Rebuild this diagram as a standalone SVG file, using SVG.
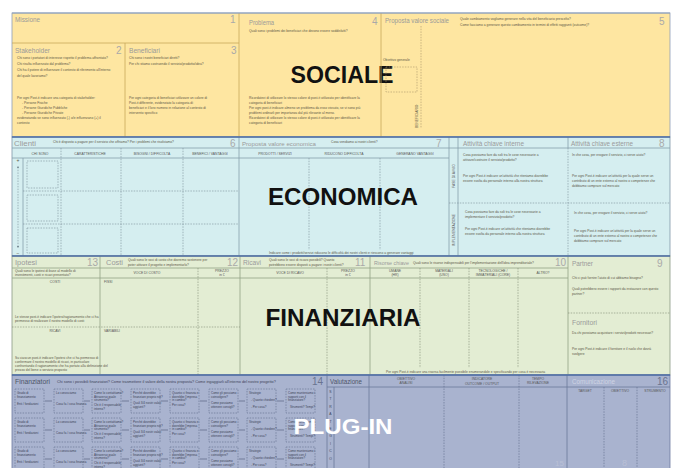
<svg xmlns="http://www.w3.org/2000/svg" width="678" height="468" viewBox="0 0 678 468">
<style>
text{font-family:"Liberation Sans",Arial,sans-serif}
.lb{font-size:8px;fill:#9a9a9a}
.lbd{font-size:8px;fill:#4e5568}
.nm{font-size:10px;fill:#a9a9a9}
.nmd{font-size:10px;fill:#6a7390}
.t{font-size:3.3px;fill:#5b5646}
.tp{font-size:3px;fill:#3e4458}
.ch{font-size:3.4px;fill:#555}
.c{text-anchor:middle}
.big{font-size:23px;font-weight:bold;fill:#111}
.ys{stroke:#c9a85a;stroke-width:0.8;fill:none}
.yd{stroke:#a8956a;stroke-width:0.6;stroke-dasharray:1.5 1.2;fill:none}
.bs{stroke:#86a0ab;stroke-width:0.8;fill:none}
.bd{stroke:#7b8f98;stroke-width:0.6;stroke-dasharray:1.5 1.2;fill:none}
.gs{stroke:#93a286;stroke-width:0.8;fill:none}
.gd{stroke:#7f8c74;stroke-width:0.6;stroke-dasharray:1.5 1.2;fill:none}
.ps{stroke:#6b789a;stroke-width:0.8;fill:none}
.pd{stroke:#5f6b8c;stroke-width:0.6;stroke-dasharray:1.5 1.2;fill:none}
.sep{stroke:#4d6da6;stroke-width:1.6;fill:none}
.lk{stroke:#4e5875;stroke-width:0.6;fill:none}
</style>
<defs>
<marker id="ar" viewBox="0 0 6 6" refX="3" refY="3" markerWidth="4" markerHeight="4" orient="auto-start-reverse">
<path d="M0,0 L6,3 L0,6 z" fill="#7b8f98"/>
</marker>
<g id="f1"><rect class="pd" width="29" height="24"/><text class="tp" x="2" y="5">Grado di</text><text class="tp" x="2" y="8.5">finanziamento</text><text class="tp" x="2" y="16">Enti / fondazioni</text></g>
<g id="f2"><rect class="pd" width="29" height="24"/><text class="tp" x="2" y="5">Lo conosciamo</text><text class="tp" x="2" y="16">Cosa fa / cosa finanzia</text></g>
<g id="f3"><rect class="pd" width="29" height="24"/><text class="tp" x="2" y="5">Come lo contattiamo?</text><text class="tp" x="2" y="8.5">Attraverso quale</text><text class="tp" x="2" y="12">strumento?</text><text class="tp" x="2" y="17">Chi è il responsabile</text><text class="tp" x="2" y="20.5">interno?</text></g>
<g id="f4"><rect class="pd" width="29" height="24"/><text class="tp" x="2" y="5">Perché dovrebbe</text><text class="tp" x="2" y="8.5">finanziare proprio noi?</text><text class="tp" x="2" y="15">Quali 3/4 nostri valori</text><text class="tp" x="2" y="18.5">aggiunti?</text></g>
<g id="f5"><rect class="pd" width="29" height="24"/><text class="tp" x="2" y="5">Quanto ci finanzia e</text><text class="tp" x="2" y="8.5">dovrebbe l'impresa</text><text class="tp" x="2" y="12">in cambio?</text><text class="tp" x="2" y="17">Per cosa?</text></g>
<g id="f6"><rect class="pd" width="29" height="24"/><text class="tp" x="2" y="5">Come gli possiamo</text><text class="tp" x="2" y="8.5">coinvolgere?</text><text class="tp" x="2" y="15">Come possiamo</text><text class="tp" x="2" y="18.5">ottenere consigli?</text></g>
<g id="f7"><rect class="pd" width="29" height="24"/><text class="tp" x="2" y="5">Strategie</text><text class="tp" x="4" y="12">- Quanto chiedere?</text><text class="tp" x="4" y="19">- Per cosa?</text></g>
<g id="f8"><rect class="pd" width="29" height="24"/><text class="tp" x="2" y="5">Come manteniamo i</text><text class="tp" x="2" y="8.5">rapporti con il</text><text class="tp" x="2" y="12">finanziatore?</text><text class="tp" x="4" y="19">Strumenti? Tempi?</text></g>
</defs>

<rect x="0" y="0" width="678" height="468" fill="#ffffff"/>

<g id="sociale">
<rect x="12" y="13" width="658" height="124" fill="#fee6a1" stroke="#8f9fb8" stroke-width="0.8"/>
<text class="big c" x="342" y="83" textLength="103" lengthAdjust="spacingAndGlyphs">SOCIALE</text>
</g>
<g id="economica">
<rect x="12" y="137" width="658" height="119" fill="#d5eef0" stroke="#7f96a8" stroke-width="0.8"/>
</g>
<g id="finanziaria">
<rect x="12" y="256" width="658" height="119" fill="#e3edd3" stroke="#8a9a86" stroke-width="0.8"/>
</g>
<g id="plugin">
<rect x="12" y="375" width="658" height="95" fill="#a9b3cf" stroke="#6e7ba0" stroke-width="0.8"/>
</g>

<g id="missione">
<path class="ys" d="M12,43 H239"/>
<text class="lb" x="15" y="22" textLength="25" lengthAdjust="spacingAndGlyphs">Missione</text>
<text class="nm" x="230" y="23">1</text>
</g>
<g id="stakeholder">
<path class="ys" d="M125,43 V137"/>
<text class="lb" x="15" y="53" textLength="35" lengthAdjust="spacingAndGlyphs">Stakeholder</text>
<text class="nm" x="116" y="54">2</text>
<text class="t" x="17" y="59">Chi sono i portatori di interesse rispetto il problema affrontato?</text>
<text class="t" x="17" y="65">Chi risulta influenzato dal problema?</text>
<text class="t" x="17" y="71">Chi ha il potere di influenzare il contesto di riferimento all'interno</text>
<text class="t" x="17" y="77">del quale lavoriamo?</text>
<text class="t" x="17" y="99">Per ogni Post-it indicare una categoria di stakeholder:</text>
<text class="t" x="22" y="104">- Persone Fisiche</text>
<text class="t" x="22" y="109">- Persone Giuridiche Pubbliche</text>
<text class="t" x="22" y="114">- Persone Giuridiche Private</text>
<text class="t" x="17" y="119">evidenziando se sono influenzato (-) o/e influenzano (+) il</text>
<text class="t" x="17" y="124">contesto</text>
</g>
<g id="beneficiari">
<path class="ys" d="M239,13 V137"/>
<text class="lb" x="129" y="53" textLength="31" lengthAdjust="spacingAndGlyphs">Beneficiari</text>
<text class="nm" x="231" y="54">3</text>
<text class="t" x="129" y="59">Chi sono i nostri beneficiari diretti?</text>
<text class="t" x="129" y="65">Per chi stiamo costruendo il servizio/prodotto/idea?</text>
<text class="t" x="129" y="99">Per ogni categoria di beneficiari utilizzare un colore di</text>
<text class="t" x="129" y="104">Post-it differente, evidenziato la categoria di</text>
<text class="t" x="129" y="109">beneficiari e il loro numero in relazione al contesto di</text>
<text class="t" x="129" y="114">intervento specifico</text>
</g>
<g id="problema">
<path class="ys" d="M381,13 V137"/>
<text class="lb" x="249" y="25" textLength="25" lengthAdjust="spacingAndGlyphs">Problema</text>
<text class="nm" x="372" y="25">4</text>
<text class="t" x="249" y="32">Quali sono i problemi dei beneficiari che devono essere soddisfatti?</text>
<text class="t" x="249" y="99">Ricordatevi di utilizzare lo stesso colore di post-it utilizzato per identificare la</text>
<text class="t" x="249" y="104">categoria di beneficiari</text>
<text class="t" x="249" y="109">Per ogni post-it indicare almeno un problema da esso vissuto, se vi sono più</text>
<text class="t" x="249" y="114">problemi ordinarli per importanza dal più rilevante al meno.</text>
<text class="t" x="249" y="119">Ricordatevi di utilizzare lo stesso colore di post-it utilizzato per identificare la</text>
<text class="t" x="249" y="124">categoria di beneficiari</text>
</g>
<g id="proposta-sociale">
<text class="lb" x="385" y="23" textLength="64" lengthAdjust="spacingAndGlyphs">Proposta valore sociale</text>
<text class="nm" x="659" y="25">5</text>
<text class="t" x="460" y="20">Quale cambiamento vogliamo generare nella vita del beneficiario prescelto?</text>
<text class="t" x="460" y="26">Come facciamo a generare questo cambiamento in termini di effetti raggiunti (outcome)?</text>
<path class="yd" d="M421,26 V128"/>
<text class="t" x="383" y="61">Obiettivo generale</text>
<rect class="yd" x="386" y="67" width="31" height="25"/>
<text class="t" x="418" y="128" transform="rotate(-90 418 128)">BENEFICIARIO</text>
</g>

<g id="clienti">
<path class="bs" d="M12,148 H670 M12,158 H449 M23,158 V256 M239,137 V256"/>
<path class="bd" d="M61,148 V256 M121,148 V256 M183,148 V256 M23,191 H239 M23,224 H239"/>
<rect class="bd" x="27" y="161" width="31" height="27"/>
<rect class="bd" x="27" y="195" width="31" height="26"/>
<rect class="bd" x="27" y="228" width="31" height="25"/>
<text class="lb" x="14" y="146" textLength="22" lengthAdjust="spacingAndGlyphs">Clienti</text>
<text class="t" x="53" y="143">Chi è disposto a pagare per il servizio che offriamo? Per i problemi che risolviamo?</text>
<text class="nm" x="230" y="147">6</text>
<text class="ch c" x="40" y="154.5">CHI SONO</text>
<text class="ch c" x="90" y="154.5">CARATTERISTICHE</text>
<text class="ch c" x="152" y="154.5">BISOGNI / DIFFICOLTÀ</text>
<text class="ch c" x="210" y="154.5">BENEFICI / VANTAGGI</text>
<text class="t c" x="18" y="162" style="font-size:5px">+</text>
<text class="t c" x="18" y="255" style="font-size:5px">−</text>
</g>
<g id="proposta-economica">
<path class="bs" d="M449,137 V256"/>
<path class="bd" d="M309,158 V250 M380,158 V250"/>
<text class="lb" x="242" y="146" style="font-size:6px" textLength="74" lengthAdjust="spacingAndGlyphs">Proposta valore economica</text>
<text class="t" x="331" y="143">Cosa vendiamo ai nostri clienti?</text>
<text class="nm" x="436" y="147">7</text>
<text class="ch c" x="275" y="154.5">PRODOTTI / SERVIZI</text>
<text class="ch c" x="344" y="154.5">RIDUCONO DIFFICOLTÀ</text>
<text class="ch c" x="415" y="154.5">GENERANO VANTAGGI</text>
<text class="t" x="269" y="254">Indicare come i prodotti/servizi riducono le difficoltà dei nostri clienti e riescono a generare vantaggi</text>
<text class="big c" x="343" y="205" textLength="150" lengthAdjust="spacingAndGlyphs">ECONOMICA</text>
</g>
<g id="fasi">
<path class="bs" d="M458,137 V256"/>
<path class="bd" d="M449,203 H670"/>
<text class="ch c" x="455" y="176" transform="rotate(-90 455 176)">FASE DI AVVIO</text>
<text class="ch c" x="455" y="230" transform="rotate(-90 455 230)">IMPLEMENTAZIONE</text>
</g>
<g id="attivita-interne">
<path class="bs" d="M568,137 V148"/>
<path class="bd" d="M568,148 V256"/>
<text class="lb" x="463" y="146" textLength="61" lengthAdjust="spacingAndGlyphs">Attività chiave interne</text>
<text class="t" x="463" y="156">Cosa possiamo fare da soli tra le cose necessarie a</text>
<text class="t" x="463" y="161">attivare/costruire il servizio/prodotto?</text>
<text class="t" x="463" y="177">Per ogni Post-it indicare un'attività che riteniamo dovrebbe</text>
<text class="t" x="463" y="182">essere svolta da personale interno alla nostra struttura</text>
<text class="t" x="465" y="213">Cosa possiamo fare da soli tra le cose necessarie a</text>
<text class="t" x="465" y="218">implementare il servizio/prodotto?</text>
<text class="t" x="465" y="230">Per ogni Post-it indicare un'attività che riteniamo dovrebbe</text>
<text class="t" x="465" y="235">essere svolta da personale interno alla nostra struttura</text>
</g>
<g id="attivita-esterne">
<text class="lb" x="571" y="146" textLength="62" lengthAdjust="spacingAndGlyphs">Attività chiave esterne</text>
<text class="nm" x="659" y="147">8</text>
<text class="t" x="572" y="156">In che cosa, per erogare il servizio, ci serve aiuto?</text>
<text class="t" x="572" y="177">Per ogni Post-it indicare un'attività per la quale serve un</text>
<text class="t" x="572" y="182">contributo di un ente esterno al nostro o competenze che</text>
<text class="t" x="572" y="187">dobbiamo comprare sul mercato</text>
<text class="t" x="574" y="214">In che cosa, per erogare il servizio, ci serve aiuto?</text>
<text class="t" x="574" y="232">Per ogni Post-it indicare un'attività per la quale serve un</text>
<text class="t" x="574" y="237">contributo di un ente esterno al nostro o competenze che</text>
<text class="t" x="574" y="242">dobbiamo comprare sul mercato</text>
</g>

<g id="ipotesi">
<path class="gs" d="M12,268 H568 M12,278 H568 M100,256 V375 M240,256 V375"/>
<path class="gd" d="M12,327 H240"/>
<text class="lb" x="15" y="265" textLength="22" lengthAdjust="spacingAndGlyphs">Ipotesi</text>
<text class="nm" x="87" y="266">13</text>
<text class="t" x="15" y="272">Quali sono le ipotesi di base al modello di</text>
<text class="t" x="15" y="276">investimenti, costi e ricavi presentato?</text>
<text class="ch c" x="55" y="283">COSTI</text>
<text class="t" x="15" y="318">Le stesse post-it indicare l'ipotesi/ragionamento che ci ha</text>
<text class="t" x="15" y="322">permesso di realizzare il nostro modello di costi</text>
<text class="ch c" x="55" y="332">RICAVI</text>
<text class="t" x="15" y="359">Su ciascun post-it indicare l'ipotesi che ci ha permesso di</text>
<text class="t" x="15" y="363">confermare il nostro modello di ricavi, in particolare</text>
<text class="t" x="15" y="367">confrontando il ragionamento che ha portato alla definizione del</text>
<text class="t" x="15" y="371">prezzo del bene o servizio proposto</text>
</g>
<g id="costi">
<path class="gd" d="M198,268 V375"/>
<text class="lb" x="106" y="265" textLength="17" lengthAdjust="spacingAndGlyphs">Costi</text>
<text class="t" x="128" y="261">Quali sono le voci di costo che dovremo sostenere per</text>
<text class="t" x="128" y="265.5">poter attivare il progetto e implementarlo?</text>
<text class="nm" x="227" y="266">12</text>
<text class="ch c" x="147" y="273.5">VOCE DI COSTO</text>
<text class="ch c" x="222" y="271.5">PREZZO</text>
<text class="ch c" x="222" y="275.5">in €</text>
<text class="ch" x="104" y="283">FISSI</text>
<text class="ch" x="104" y="332">VARIABILI</text>
</g>
<g id="ricavi">
<path class="gs" d="M370,256 V375"/>
<path class="gd" d="M327,268 V375"/>
<text class="lb" x="243" y="265" textLength="18" lengthAdjust="spacingAndGlyphs">Ricavi</text>
<text class="t" x="269" y="261">Quali sono le voci di ricavo possibili? Quanto</text>
<text class="t" x="269" y="265.5">potrebbero essere disposti a pagare i nostri clienti?</text>
<text class="nm" x="355" y="266">11</text>
<text class="ch c" x="290" y="273.5">VOCE DI RICAVO</text>
<text class="ch c" x="348" y="271.5">PREZZO</text>
<text class="ch c" x="348" y="275.5">in €</text>
<text class="big c" x="343" y="326" textLength="155" lengthAdjust="spacingAndGlyphs">FINANZIARIA</text>
</g>
<g id="risorse">
<path class="gs" d="M568,256 V375"/>
<path class="gd" d="M420,268 V368 M469,268 V368 M518,268 V368"/>
<text class="lb" x="374" y="265" style="font-size:5.5px" textLength="35" lengthAdjust="spacingAndGlyphs">Risorse chiave</text>
<text class="t" x="413" y="263.5">Quali sono le risorse indispensabili per l'implementazione dell'idea imprenditoriale?</text>
<text class="nm" x="555" y="266">10</text>
<text class="ch c" x="395" y="272">UMANE</text>
<text class="ch c" x="395" y="276">(HR)</text>
<text class="ch c" x="444" y="272">MATERIALI</text>
<text class="ch c" x="444" y="276">(USO)</text>
<text class="ch c" x="493" y="272">TECNOLOGICHE /</text>
<text class="ch c" x="493" y="276">IMMATERIALI (CORE)</text>
<text class="ch c" x="543" y="274">ALTRO?</text>
<text class="t" x="386" y="373">Per ogni Post-it indicare una risorsa facilmente possibile enumerandole e specificando per cosa è necessaria</text>
</g>
<g id="partner">
<path class="gd" d="M568,313 H670"/>
<text class="lb" x="572" y="266" textLength="21" lengthAdjust="spacingAndGlyphs">Partner</text>
<text class="nm" x="657" y="267">9</text>
<text class="t" x="572" y="279">Chi ci può fornire l'aiuto di cui abbiamo bisogno?</text>
<text class="t" x="572" y="290">Quali potrebbero essere i rapporti da instaurare con questo</text>
<text class="t" x="572" y="295">partner?</text>
</g>
<g id="fornitori">
<text class="lb" x="572" y="325" textLength="25" lengthAdjust="spacingAndGlyphs">Fornitori</text>
<text class="t" x="572" y="334">Da chi possiamo acquistare i servizi/prodotti necessari?</text>
<text class="t" x="572" y="350">Per ogni Post-it indicare il fornitore e il ruolo che dovrà</text>
<text class="t" x="572" y="355">svolgere</text>
</g>

<g id="finanziatori">
<path class="ps" d="M327,375 V468"/>
<text class="lbd" x="15" y="384" textLength="35" lengthAdjust="spacingAndGlyphs">Finanziatori</text>
<text class="tp" x="57" y="382.5" style="font-size:3.8px">Chi sono i possibili finanziatori? Come trasmettere il valore della nostra proposta? Come ingaggiarli all'interno del nostro progetto?</text>
<text class="nmd" x="312" y="385">14</text>
</g>
<g id="fin-r1">
<use href="#f1" x="15" y="389"/><use href="#f2" x="54" y="389"/><use href="#f3" x="92" y="389"/><use href="#f4" x="131" y="389"/><use href="#f5" x="170" y="389"/><use href="#f6" x="209" y="389"/><use href="#f7" x="247" y="389"/><use href="#f8" x="286" y="389"/>
</g>
<g id="fin-r2">
<use href="#f1" x="15" y="418"/><use href="#f2" x="54" y="418"/><use href="#f3" x="92" y="418"/><use href="#f4" x="131" y="418"/><use href="#f5" x="170" y="418"/><use href="#f6" x="209" y="418"/><use href="#f7" x="247" y="418"/><use href="#f8" x="286" y="418"/>
</g>
<g id="fin-r3">
<use href="#f1" x="15" y="447"/><use href="#f2" x="54" y="447"/><use href="#f3" x="92" y="447"/><use href="#f4" x="131" y="447"/><use href="#f5" x="170" y="447"/><use href="#f6" x="209" y="447"/><use href="#f7" x="247" y="447"/><use href="#f8" x="286" y="447"/>
</g>
<g id="valutazione">
<path class="ps" d="M327,387 H670 M334,387 V468 M369,375 V468 M567,375 V468"/>
<path class="pd" d="M444,375 V468 M519,375 V468"/>
<text class="lbd" x="330" y="384" textLength="32" lengthAdjust="spacingAndGlyphs">Valutazione</text>
<text class="ch c" x="406" y="380">OBIETTIVO</text>
<text class="ch c" x="406" y="384">ANALISI</text>
<text class="ch c" x="482" y="380">INDICATORE</text>
<text class="ch c" x="482" y="384.5">OUTCOME / OUTPUT</text>
<text class="ch c" x="538" y="380">TEMPO</text>
<text class="ch c" x="538" y="384">RILEVAZIONE</text>
<text class="ch" x="330.5" y="390" style="fill:#3e4458;writing-mode:vertical-rl;text-orientation:upright;letter-spacing:3.4px">STRATEGICO</text>
<text x="555" y="466" style="font-size:8px;fill:#b9c0d6">15</text>
<text class="big c" x="343" y="434" textLength="99" lengthAdjust="spacingAndGlyphs" style="fill:#ffffff;font-size:22px">PLUG-IN</text>
</g>
<g id="comunicazione">
<path class="pd" d="M604,387 V468 M637,387 V468"/>
<text class="lbd" x="572" y="384" textLength="43" lengthAdjust="spacingAndGlyphs" style="fill:#cfd4e4">Comunicazione</text>
<text class="nmd" x="657" y="385">16</text>
<text class="ch c" x="585" y="392">TARGET</text>
<text class="ch c" x="620" y="392">OBIETTIVO</text>
<text class="ch c" x="655" y="392">STRUMENTO</text>
<text x="622" y="466" style="font-size:9px;fill:#b9c0d6">8</text>
</g>

<g id="connectors">
<path class="bd" d="M18,167 V247" marker-start="url(#ar)" marker-end="url(#ar)"/>
<path class="lk" d="M45,401 H52 M84,401 H90 M122,401 H129 M161,401 H168 M200,401 H207 M239,401 H245 M277,401 H284"/>
<path class="lk" d="M45,430 H52 M84,430 H90 M122,430 H129 M161,430 H168 M200,430 H207 M239,430 H245 M277,430 H284"/>
<path class="lk" d="M45,459 H52 M84,459 H90 M122,459 H129 M161,459 H168 M200,459 H207 M239,459 H245 M277,459 H284"/>
</g>

<g id="separators">
<path class="sep" d="M12,137 H670 M12,256 H670 M12,375 H670"/>
<path d="M12,13 H670" stroke="#8aa0c0" stroke-width="1"/>
</g>
</svg>
